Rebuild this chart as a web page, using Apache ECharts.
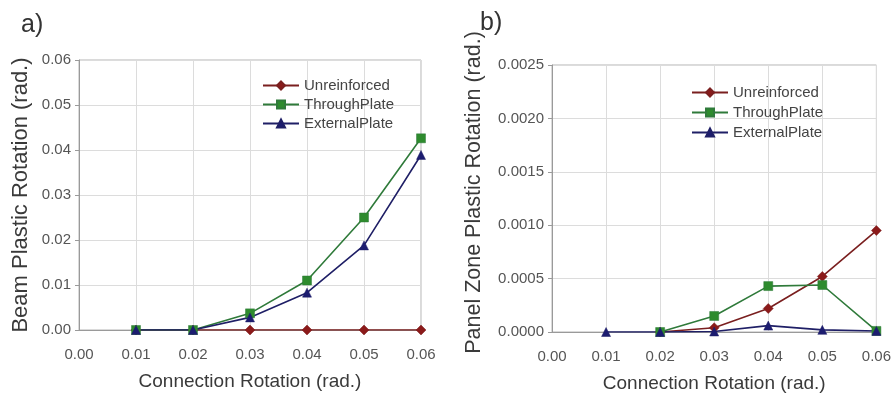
<!DOCTYPE html>
<html>
<head>
<meta charset="utf-8">
<script src="https://cdn.jsdelivr.net/npm/echarts@6/dist/echarts.min.js"></script>
<style>
html,body{margin:0;padding:0;background:#fff;}
#main{width:894px;height:398px;}
</style>
</head>
<body>
<div id="main"></div>
<script>
// ---- data ----
var connRotation = [0.01, 0.02, 0.03, 0.04, 0.05, 0.06];
var seriesNames = ['Unreinforced', 'ThroughPlate', 'ExternalPlate'];

// a) Beam plastic rotation
var beamUnreinforced  = [0, 0, 0, 0, 0, 0];
var beamThroughPlate  = [0, 0, 0.0037, 0.0110, 0.0250, 0.0426];
var beamExternalPlate = [0, 0, 0.0028, 0.0083, 0.0188, 0.0389];

// b) Panel zone plastic rotation
var pzUnreinforced  = [null, 0, 0.00004, 0.00022, 0.00052, 0.00095];
var pzThroughPlate  = [null, 0, 0.00015, 0.00043, 0.00044, 0.00001];
var pzExternalPlate = [0, 0, 0.000005, 0.00006, 0.00002, 0.00001];

var xTicks = ['0.00', '0.01', '0.02', '0.03', '0.04', '0.05', '0.06'];
var yTicksA = ['0.00', '0.01', '0.02', '0.03', '0.04', '0.05', '0.06'];
var yTicksB = ['0.0000', '0.0005', '0.0010', '0.0015', '0.0020', '0.0025'];

// ---- styling ----
var colors = {
  Unreinforced: {line: '#7a1f1f', marker: '#8b1a1a', symbol: 'diamond', size: 10},
  ThroughPlate: {line: '#2f7a3a', marker: '#2e8b2e', symbol: 'rect', size: 9},
  ExternalPlate: {line: '#1f1f66', marker: '#1c1c70', symbol: 'triangle', size: 9}
};
var FONT = 'Liberation Sans, Arial, sans-serif';

function pairs(vals) {
  return connRotation.map(function (x, i) { return [x, vals[i]]; });
}
function mkSeries(name, vals, idx) {
  var c = colors[name];
  return {
    name: name, type: 'line', xAxisIndex: idx, yAxisIndex: idx,
    data: pairs(vals), symbol: c.symbol, symbolSize: c.size,
    lineStyle: {color: c.line, width: 1.6},
    itemStyle: {color: c.marker, borderColor: c.line, borderWidth: 0.5},
    animation: false
  };
}
function xAxisDef(idx) {
  return {
    type: 'value', gridIndex: idx, min: 0, max: 0.06, interval: 0.01,
    name: 'Connection Rotation (rad.)', nameLocation: 'middle', nameGap: 42,
    nameTextStyle: {fontFamily: FONT, fontSize: 19, color: '#3a3a3a'},
    axisLine: {show: true, onZero: false, lineStyle: {color: '#9a9a9a', width: 1.2}},
    axisTick: {show: false},
    axisLabel: {fontFamily: FONT, fontSize: 15, color: '#555', margin: 17,
      formatter: function (v) { return xTicks[Math.round(v / 0.01)]; }},
    splitLine: {show: true, lineStyle: {color: '#dcdcdc'}}
  };
}

var option = {
  backgroundColor: '#ffffff',
  animation: false,
  title: [
    {text: 'a)', left: 16, top: 8, textStyle: {fontFamily: FONT, fontSize: 25, fontWeight: 'normal', color: '#333'}},
    {text: 'b)', left: 475, top: 6, textStyle: {fontFamily: FONT, fontSize: 25, fontWeight: 'normal', color: '#333'}}
  ],
  grid: [
    {left: 79, right: 473, top: 60, bottom: 68, show: true, borderColor: '#b5b5b5', borderWidth: 1, backgroundColor: '#fff'},
    {left: 552, right: 15, top: 65, bottom: 66, show: true, borderColor: '#b5b5b5', borderWidth: 1, backgroundColor: '#fff'}
  ],
  legend: [
    {data: seriesNames, orient: 'vertical', left: 257, top: 73, itemWidth: 36, itemHeight: 10, itemGap: 4,
      textStyle: {fontFamily: FONT, fontSize: 15, color: '#444'}},
    {data: seriesNames, orient: 'vertical', left: 686, top: 80, itemWidth: 36, itemHeight: 10, itemGap: 5,
      textStyle: {fontFamily: FONT, fontSize: 15, color: '#444'}}
  ],
  xAxis: [xAxisDef(0), xAxisDef(1)],
  yAxis: [
    {type: 'value', gridIndex: 0, min: 0, max: 0.06, interval: 0.01,
      name: 'Beam Plastic Rotation (rad.)', nameLocation: 'middle', nameGap: 47,
      nameTextStyle: {fontFamily: FONT, fontSize: 22, color: '#3a3a3a'},
      axisLine: {show: true, lineStyle: {color: '#9a9a9a'}},
      axisTick: {show: true, length: 4, lineStyle: {color: '#9a9a9a'}},
      axisLabel: {fontFamily: FONT, fontSize: 15, color: '#555', margin: 8,
        formatter: function (v) { return yTicksA[Math.round(v / 0.01)]; }},
      splitLine: {show: true, lineStyle: {color: '#dcdcdc'}}},
    {type: 'value', gridIndex: 1, min: 0, max: 0.0025, interval: 0.0005,
      name: 'Panel Zone Plastic Rotation (rad.)', nameLocation: 'middle', nameGap: 67,
      nameTextStyle: {fontFamily: FONT, fontSize: 21.5, color: '#3a3a3a', padding: [0, 0, 0, 12]},
      axisLine: {show: true, lineStyle: {color: '#9a9a9a'}},
      axisTick: {show: true, length: 4, lineStyle: {color: '#9a9a9a'}},
      axisLabel: {fontFamily: FONT, fontSize: 15, color: '#555', margin: 8,
        formatter: function (v) { return yTicksB[Math.round(v / 0.0005)]; }},
      splitLine: {show: true, lineStyle: {color: '#dcdcdc'}}}
  ],
  series: [
    mkSeries('Unreinforced', beamUnreinforced, 0),
    mkSeries('ThroughPlate', beamThroughPlate, 0),
    mkSeries('ExternalPlate', beamExternalPlate, 0),
    mkSeries('Unreinforced', pzUnreinforced, 1),
    mkSeries('ThroughPlate', pzThroughPlate, 1),
    mkSeries('ExternalPlate', pzExternalPlate, 1)
  ]
};

var chart = echarts.init(document.getElementById('main'), null, {renderer: 'canvas'});
chart.setOption(option);
</script>
</body>
</html>
